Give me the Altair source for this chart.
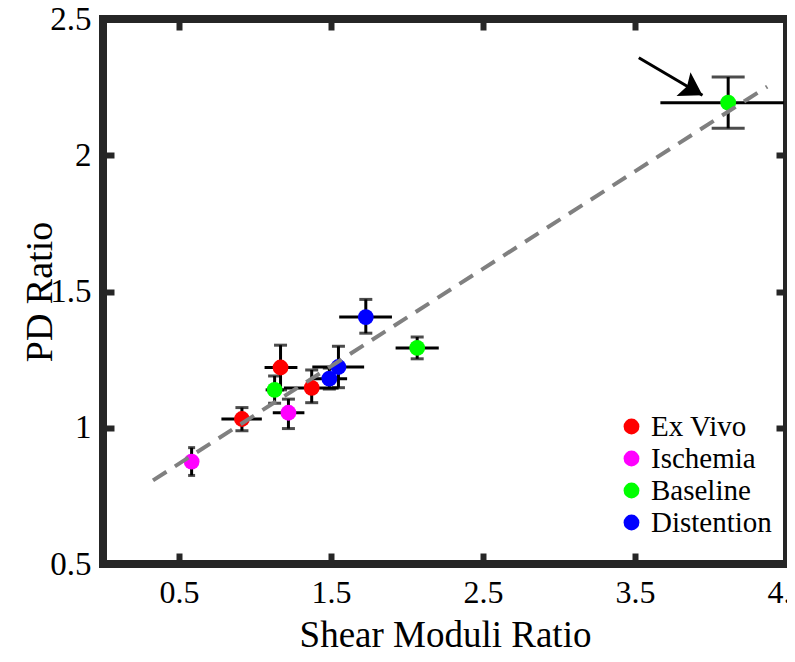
import altair as alt
import pandas as pd

# ---- data ----
groups = ["Ex Vivo", "Ex Vivo", "Ex Vivo", "Ischemia", "Ischemia",
          "Baseline", "Baseline", "Baseline",
          "Distention", "Distention", "Distention"]
shear = [0.914, 1.168, 1.373, 0.583, 1.220, 1.129, 2.067, 4.113, 1.729, 1.549, 1.489]
shear_lo = [0.779, 1.063, 1.190, 0.578, 1.117, 1.070, 1.925, 3.667, 1.554, 1.377, 1.377]
shear_hi = [1.045, 1.279, 1.550, 0.588, 1.325, 1.190, 2.209, 4.479, 1.901, 1.718, 1.606]
pd_ratio = [1.032, 1.221, 1.146, 0.876, 1.055, 1.139, 1.293, 2.193, 1.406, 1.223, 1.180]
pd_lo = [0.989, 1.139, 1.092, 0.825, 0.997, 1.090, 1.253, 2.099, 1.347, 1.147, 1.142]
pd_hi = [1.074, 1.303, 1.212, 0.927, 1.105, 1.190, 1.333, 2.287, 1.471, 1.299, 1.219]

fit_x = [0.329, 4.370]
fit_y = [0.807, 2.252]

arrow_x = [3.525, 3.944]
arrow_y = [2.358, 2.220]

x_ticks = [0.5, 1.5, 2.5, 3.5, 4.5]
y_ticks = [0.5, 1, 1.5, 2, 2.5]

categories = ["Ex Vivo", "Ischemia", "Baseline", "Distention"]
colors = ["#FF0000", "#FF00FF", "#00FF00", "#0000FF"]

# ---- tables ----
df = pd.DataFrame({
    "group": groups, "x": shear, "xlo": shear_lo, "xhi": shear_hi,
    "y": pd_ratio, "ylo": pd_lo, "yhi": pd_hi,
})
cap_px = {3: 7, 7: 33}
df["cap"] = [cap_px.get(i, 13) for i in range(len(df))]

fit_df = pd.DataFrame({"x": fit_x, "y": fit_y})
arrow_df = pd.DataFrame({"x": [arrow_x[0]], "y": [arrow_y[0]],
                         "x2": [arrow_x[1]], "y2": [arrow_y[1]]})
head_df = pd.DataFrame({"x": [arrow_x[1]], "y": [arrow_y[1]]})

FONT = "Liberation Serif"
FRAME = "#262626"
W, H = 684, 545
xs = alt.Scale(domain=[0, 4.5], nice=False, zero=False)
ys = alt.Scale(domain=[0.5, 2.5], nice=False, zero=False)

tick_common = dict(domain=False, grid=False, offset=-11, tickSize=11,
                   tickWidth=6, tickColor=FRAME)

x_axis_main = alt.Axis(values=x_ticks, format=".1f", labelFont=FONT, labelFontSize=32,
                       labelColor="black", labelPadding=13, labelFlush=False,
                       labelOverlap=False, labelBound=False,
                       title="Shear Moduli Ratio",
                       titleFont=FONT, titleFontSize=37, titleFontWeight="normal",
                       titleColor="black", titleY=93, titleBaseline="alphabetic",
                       **tick_common)
y_axis_main = alt.Axis(values=y_ticks, format=".1~f", labelFont=FONT, labelFontSize=33,
                       labelColor="black", labelPadding=12, labelFlush=False,
                       labelOverlap=False,
                       title="PD Ratio", titleFont=FONT, titleFontSize=38,
                       titleFontWeight="normal", titleColor="black",
                       titleX=-74, titleY=H / 2, titleAlign="center",
                       titleBaseline="middle", titleAngle=270, **tick_common)
x_axis_top = alt.Axis(values=x_ticks, labels=False, title=None, orient="top", **tick_common)
y_axis_right = alt.Axis(values=y_ticks, labels=False, title=None, orient="right", **tick_common)

base = alt.Chart(df)

xerr = base.mark_rule(color="black", strokeWidth=3).encode(
    x=alt.X("xlo:Q", scale=xs, axis=None), x2="xhi:Q",
    y=alt.Y("y:Q", scale=ys, axis=None))
yerr = base.mark_rule(color="black", strokeWidth=3).encode(
    x=alt.X("x:Q", scale=xs, axis=None),
    y=alt.Y("ylo:Q", scale=ys, axis=None), y2="yhi:Q")
cap_lo = base.mark_tick(color="black", thickness=3, orient="horizontal").encode(
    x=alt.X("x:Q", scale=xs, axis=None),
    y=alt.Y("ylo:Q", scale=ys, axis=None),
    size=alt.Size("cap:Q", scale=None, legend=None))
cap_hi = base.mark_tick(color="black", thickness=3, orient="horizontal").encode(
    x=alt.X("x:Q", scale=xs, axis=None),
    y=alt.Y("yhi:Q", scale=ys, axis=None),
    size=alt.Size("cap:Q", scale=None, legend=None))

points = base.mark_circle(size=250, opacity=1).encode(
    x=alt.X("x:Q", scale=xs, axis=x_axis_main),
    y=alt.Y("y:Q", scale=ys, axis=y_axis_main),
    color=alt.Color("group:N", scale=alt.Scale(domain=categories, range=colors),
                    sort=categories,
                    legend=alt.Legend(title=None, orient="none", legendX=514, legendY=393,
                                      symbolType="circle", symbolSize=250,
                                      symbolStrokeWidth=0, labelFont=FONT,
                                      labelFontSize=29, labelColor="black",
                                      labelOffset=5, rowPadding=2, padding=0)),
    order=alt.Order("idx:Q"),
).transform_window(idx="row_number()")

fit = alt.Chart(fit_df).mark_line(color="#808080", strokeWidth=4,
                                  strokeDash=[16, 10]).encode(
    x=alt.X("x:Q", scale=xs, axis=x_axis_top),
    y=alt.Y("y:Q", scale=ys, axis=y_axis_right))

arrow_line = alt.Chart(arrow_df).mark_rule(color="black", strokeWidth=3).encode(
    x=alt.X("x:Q", scale=xs, axis=None), x2="x2:Q",
    y=alt.Y("y:Q", scale=ys, axis=None), y2="y2:Q")
arrow_head = alt.Chart(head_df).mark_point(
    shape="M0,0 L-1.6,-1 L-1.3,0 L-1.6,1 Z", filled=True, color="black",
    opacity=1, size=760, angle=30.5, strokeWidth=0).encode(
    x=alt.X("x:Q", scale=xs, axis=None),
    y=alt.Y("y:Q", scale=ys, axis=None))

chart = alt.layer(xerr, yerr, cap_lo, cap_hi, points, fit, arrow_line, arrow_head).resolve_axis(
    x="independent", y="independent"
).properties(
    width=W, height=H,
    autosize=alt.AutoSizeParams(type="none"),
    padding={"left": 95, "top": 11, "right": 0, "bottom": 84},
    background="white",
).configure_view(
    stroke=FRAME, strokeWidth=8
).configure_legend(
    labelFont=FONT
).configure_text(font=FONT)

chart.save("out.html", embed_options={"renderer": "svg", "actions": False})
